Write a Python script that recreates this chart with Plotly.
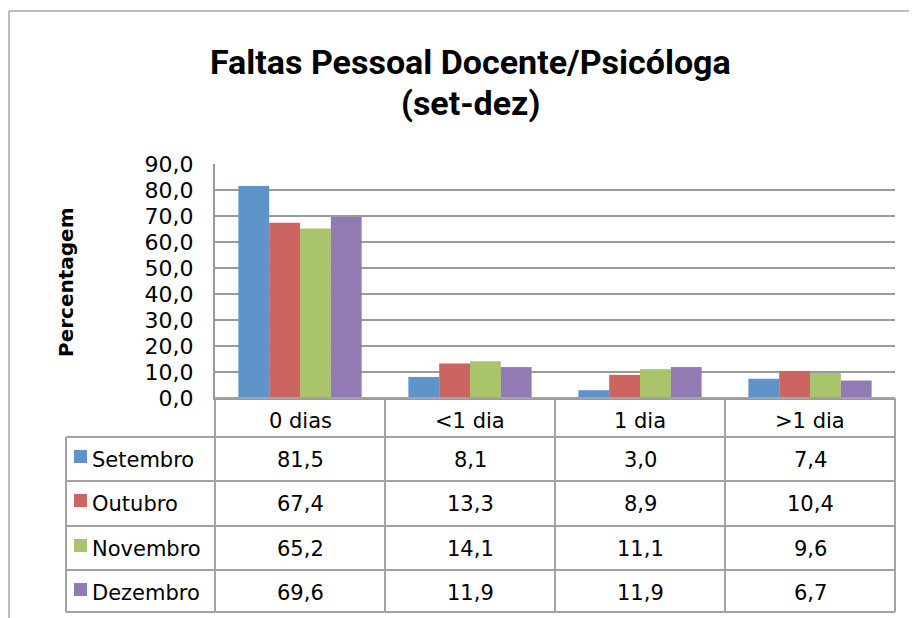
import plotly.graph_objects as go

categories = ["0 dias", "<1 dia", "1 dia", ">1 dia"]
months = ["Setembro", "Outubro", "Novembro", "Dezembro"]
setembro = [81.5, 8.1, 3.0, 7.4]
outubro = [67.4, 13.3, 8.9, 10.4]
novembro = [65.2, 14.1, 11.1, 9.6]
dezembro = [69.6, 11.9, 11.9, 6.7]
series = [setembro, outubro, novembro, dezembro]
colors = ["#5f94c9", "#cc6460", "#a9c46b", "#927ab2"]

# page has an 8px body margin; work in reference pixel coords and shift
OFF = 8
W, H = 917 - OFF, 618 - OFF
L, R, T, B = 215, 895, 164, 398
FONT = "DejaVu Sans"
TFONT = "Roboto"

def px(x):
    return (x - L) / (R - L)

def py(y):
    return (B - y) / (B - T)

fig = go.Figure()
for name, vals, c in zip(months, series, colors):
    fig.add_trace(go.Bar(x=categories, y=vals, name=name, marker=dict(color=c, line=dict(width=0))))

shapes = []
annotations = []
grid = "#9a9a9a"
tbl = "#a3a3a3"

# chart frame
shapes.append(dict(type="line", xref="paper", yref="paper", x0=px(9), x1=px(930), y0=py(11), y1=py(11), line=dict(color="#a8a8a8", width=1.5)))
shapes.append(dict(type="line", xref="paper", yref="paper", x0=px(9), x1=px(9), y0=py(11), y1=py(640), line=dict(color="#a8a8a8", width=1.5)))

# table
row_y = [398, 437, 481, 526, 570, 612]
col_x = [L, 385, 555, 725, R]
shapes.append(dict(type="line", xref="paper", yref="paper", x0=px(L), x1=px(R), y0=py(row_y[0]), y1=py(row_y[0]), line=dict(color=tbl, width=2)))
for y in row_y[1:]:
    shapes.append(dict(type="line", xref="paper", yref="paper", x0=px(66), x1=px(R), y0=py(y), y1=py(y), line=dict(color=tbl, width=2)))
for x in col_x:
    shapes.append(dict(type="line", xref="paper", yref="paper", x0=px(x), x1=px(x), y0=py(row_y[0]), y1=py(row_y[-1]), line=dict(color=tbl, width=2)))
shapes.append(dict(type="line", xref="paper", yref="paper", x0=px(66), x1=px(66), y0=py(row_y[1]), y1=py(row_y[-1]), line=dict(color=tbl, width=2)))

tf = dict(family=FONT, size=21, color="black")
for cat in categories:
    annotations.append(dict(x=cat, xref="x", y=py(row_y[0] + 23), yref="paper",
                            text=cat.replace("<", "&lt;").replace(">", "&gt;"), showarrow=False,
                            font=tf, xanchor="center", yanchor="middle"))
for i, (name, vals, c) in enumerate(zip(months, series, colors)):
    top = row_y[i + 1]
    yc = top + 23
    shapes.append(dict(type="rect", xref="paper", yref="paper", x0=px(74), x1=px(87), y0=py(top + 26), y1=py(top + 13),
                       fillcolor=c, line=dict(width=0)))
    annotations.append(dict(x=px(90), xref="paper", y=py(yc), yref="paper", text=name, showarrow=False,
                            font=tf, xanchor="left", yanchor="middle"))
    for cat, v in zip(categories, vals):
        annotations.append(dict(x=cat, xref="x", y=py(yc), yref="paper", text=f"{v:.1f}".replace(".", ","),
                                showarrow=False, font=tf, xanchor="center", yanchor="middle"))

# y axis title
annotations.append(dict(x=px(66), xref="paper", y=py(282), yref="paper", text="<b>Percentagem</b>", textangle=-90,
                        showarrow=False, font=dict(family=FONT, size=20, color="black"), xanchor="center", yanchor="middle"))

# title lines
annotations.append(dict(x=px(470), xref="paper", y=py(62), yref="paper", text="<b>Faltas Pessoal Docente/Psicóloga</b>",
                        showarrow=False, font=dict(family=TFONT, size=34, color="black"), xanchor="center", yanchor="middle"))
annotations.append(dict(x=px(470), xref="paper", y=py(103), yref="paper", text="<b>(set-dez)</b>",
                        showarrow=False, font=dict(family=TFONT, size=34, color="black"), xanchor="center", yanchor="middle"))

fig.update_layout(
    width=W, height=H,
    margin=dict(l=L - OFF, r=W - (R - OFF), t=T - OFF, b=H - (B - OFF), pad=0, autoexpand=False),
    paper_bgcolor="white", plot_bgcolor="white",
    separators=",.",
    showlegend=False,
    barmode="group", bargap=0.275, bargroupgap=0,
    xaxis=dict(showticklabels=False, showgrid=False, showline=True, linecolor=grid, linewidth=2, ticks="", range=[-0.5, 3.5]),
    yaxis=dict(range=[0, 90], dtick=10, tickformat=".1f", showgrid=True, gridcolor=grid, gridwidth=2,
               showline=True, linecolor=grid, linewidth=2, ticks="", zeroline=False,
               tickfont=dict(family=FONT, size=22, color="black"), ticklabelstandoff=15),
    shapes=shapes, annotations=annotations,
)
fig.write_html("out.html")
